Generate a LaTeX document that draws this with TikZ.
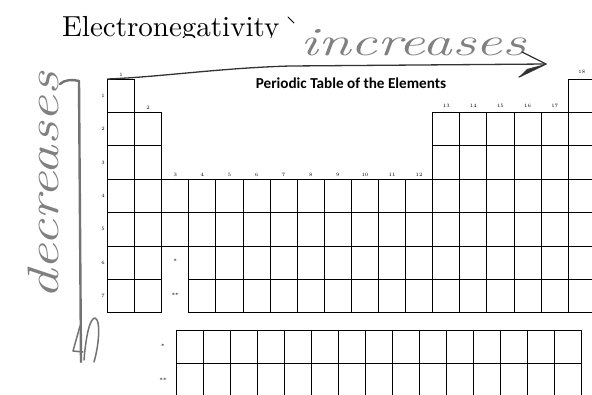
\documentclass[tikz,border=0pt]{standalone}
\usepackage{fontspec}
\newfontfamily\carlito{Carlito}
\newfontfamily\lmten{lmroman10-regular}[Extension=.otf]
\usetikzlibrary{arrows.meta}
\tikzset{
 cellbox/.style={draw=black, line width=0.9pt, minimum width=27.1pt, minimum height=33.4pt, inner sep=0pt, outer sep=0pt, anchor=north west},
 grouplabel/.style={font=\fontsize{5}{6}\selectfont, inner sep=1pt, anchor=south, yshift=1.5pt},
 periodlabel/.style={font=\fontsize{5}{6}\selectfont, inner sep=1pt, anchor=east, xshift=-1.5pt},
 starlabel/.style={font=\fontsize{6}{6}\selectfont, inner sep=0pt},
 pencil/.style={draw=black!55, line width=2.4pt, line cap=round, line join=round},
 pen/.style={draw=black!80, line width=1.3pt, line cap=round, line join=round},
 handtext/.style={text=black!50, font=\itshape\fontsize{40}{40}\selectfont, inner sep=0pt},
}
\newcommand\pcell[2]{\node[cellbox] (c-#1-#2) at ({107.5+27.1*(#2-1)},{79+33.4*(#1-1)}) {};}
\newcommand\fcell[2]{\node[cellbox, minimum width=27pt] (f-#1-#2) at ({176+27*(#2-1)},{330+33.3*(#1-1)}) {};}
\begin{document}
\begin{tikzpicture}[x=1pt,y=-1pt]
\useasboundingbox (0,0) rectangle (592,394);
\clip (0,0) rectangle (592,394);
% main table
\foreach \c in {1,18} {\pcell{1}{\c}}
\foreach \r in {2,3} {\foreach \c in {1,2,13,14,15,16,17,18} {\pcell{\r}{\c}}}
\foreach \r in {4,5} {\foreach \c in {1,...,18} {\pcell{\r}{\c}}}
\foreach \r in {6,7} {\foreach \c in {1,2,4,5,...,18} {\pcell{\r}{\c}}}
% f-block
\foreach \r in {1,2} {\foreach \c in {1,...,15} {\fcell{\r}{\c}}}
% group labels
\node[grouplabel] (g1) at (c-1-1.north) {1};
\node[grouplabel] (g2) at (c-2-2.north) {2};
\foreach \c in {3,...,12} {\node[grouplabel] (g\c) at (c-4-\c.north) {\c};}
\foreach \c in {13,...,17} {\node[grouplabel, yshift=2.5pt] (g\c) at (c-2-\c.north) {\c};}
\node[grouplabel, yshift=3pt] (g18) at (c-1-18.north) {18};
% period labels
\foreach \r in {1,...,7} {\node[periodlabel] (p\r) at (c-\r-1.west) {\r};}
% star labels
\node[starlabel] (s6) at ({107.5+27.1*2+13.5},{79+33.4*5+15}) {*};
\node[starlabel] (s7) at ({107.5+27.1*2+13.5},{79+33.4*6+16}) {**};
\node[starlabel] (sf1) at (163,346) {*};
\node[starlabel] (sf2) at (163,380) {**};
% titles
\begin{scope}
\clip (0,0) rectangle (592,37.5);
\node[font=\lmten\fontsize{29}{30}\selectfont, anchor=base west, inner sep=0pt] (en) at (62,36) {Electronegativity};
\end{scope}
\node[font=\carlito\bfseries\fontsize{15.2}{18}\selectfont, anchor=base, inner sep=0pt] (pt) at (351,88) {Periodic Table of the Elements};
\draw[black, line width=1pt, line cap=round] (288,17) -- (294,23);
% handwriting
\node[handtext, anchor=base west, xscale=1.48] (incr) at (300,55) {increases};
\node[handtext, font=\itshape\fontsize{44}{44}\selectfont, anchor=base west, rotate=90, xscale=1.34] (decr) at (58,300) {decreases};
% horizontal arrow
\coordinate (hb) at (546,64);
\draw[pen] (c-1-1.north west) .. controls (160,77) and (220,68) .. (290,66) -- (hb);
\draw[pen] (522,52) -- (hb) -- (519,77);
\fill[black!80] (hb) -- (519,77) -- (527,69) -- cycle;
% vertical arrow
\coordinate (va) at (79,81);
\coordinate (vb) at (81,362);
\draw[pencil] (va) -- (vb);
\draw[pencil] (va) .. controls (72,79) and (64,80) .. (60,84);
\draw[pencil, line width=1.5pt] (80,326) -- (73,351) -- (83,352);
\draw[pencil, line width=1.5pt] (84,360) .. controls (86,335) and (90,318) .. (95,318) .. controls (101,320) and (99,345) .. (94,362);
\end{tikzpicture}
\end{document}
